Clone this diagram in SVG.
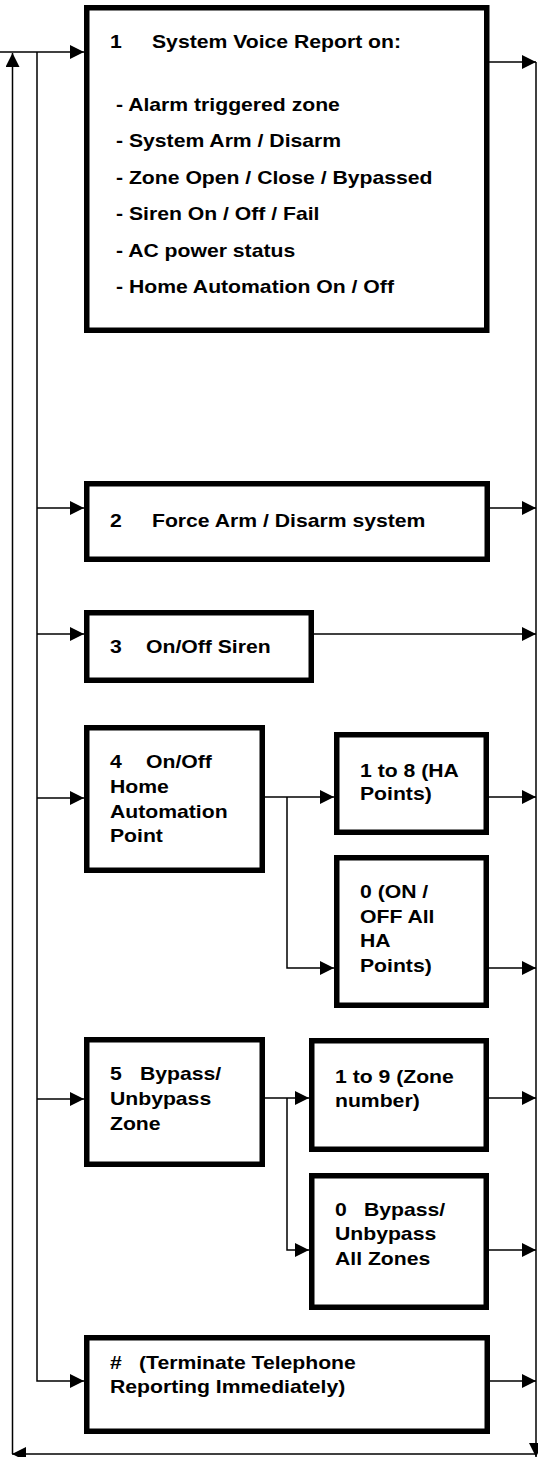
<svg xmlns="http://www.w3.org/2000/svg" width="538" height="1457" viewBox="0 0 538 1457">
<style>
.box{fill:#fff;stroke:#000;stroke-width:5.5}
.c{fill:none;stroke:#000;stroke-width:1.5}
.a{marker-end:url(#ah)}
text{font-family:"Liberation Sans",Arial,Helvetica,sans-serif;font-weight:bold;font-size:19px;fill:#000}
.s{transform:scale(1.115,1)}
</style>
<defs>
<marker id="ah" markerUnits="userSpaceOnUse" markerWidth="14" markerHeight="14" refX="14" refY="7" orient="auto">
<path d="M0,0 L14,7 L0,14 z" fill="#000"/>
</marker>
</defs>
<rect width="538" height="1457" fill="#fff"/>
<g id="connectors">
<path class="c a" d="M0,52 H84"/>
<path class="c a" d="M12.5,1454 V53"/>
<path class="c a" d="M37,52 V1381 H84"/>
<path class="c a" d="M37,508 H84"/>
<path class="c a" d="M37,634 H84"/>
<path class="c a" d="M37,798 H84"/>
<path class="c a" d="M37,1099 H84"/>
<path class="c a" d="M489,62 H536"/>
<path class="c a" d="M489,508 H536"/>
<path class="c a" d="M313,634 H536"/>
<path class="c a" d="M489,797 H536"/>
<path class="c a" d="M489,968 H536"/>
<path class="c a" d="M489,1098 H536"/>
<path class="c a" d="M489,1250 H536"/>
<path class="c a" d="M489,1381 H536"/>
<path class="c a" d="M536,62 V1457"/>
<path class="c a" d="M536,1454 H12"/>
<path class="c a" d="M264,797 H334"/>
<path class="c a" d="M287,797 V968 H334"/>
<path class="c a" d="M264,1098 H309"/>
<path class="c a" d="M287,1098 V1250 H309"/>
</g>
<g id="n1">
<rect class="box" x="86.75" y="7.75" width="400" height="322.5"/>
<text class="s" y="48"><tspan x="98.65">1</tspan><tspan x="136.32">System Voice Report on:</tspan></text>
<text class="s" x="104.04" y="111">- Alarm triggered zone</text>
<text class="s" x="104.04" y="147.5">- System Arm / Disarm</text>
<text class="s" x="104.04" y="184">- Zone Open / Close / Bypassed</text>
<text class="s" x="104.04" y="220.5">- Siren On / Off / Fail</text>
<text class="s" x="104.04" y="257">- AC power status</text>
<text class="s" x="104.04" y="293.5">- Home Automation On / Off</text>
</g>
<g id="n2">
<rect class="box" x="86.75" y="483.75" width="400.5" height="75.5"/>
<text class="s" y="527"><tspan x="98.65">2</tspan><tspan x="136.32">Force Arm / Disarm system</tspan></text>
</g>
<g id="n3">
<rect class="box" x="86.75" y="612.75" width="224.5" height="67.5"/>
<text class="s" y="653"><tspan x="98.65">3</tspan><tspan x="130.94">On/Off Siren</tspan></text>
</g>
<g id="n4">
<rect class="box" x="86.75" y="727.75" width="175.5" height="142.5"/>
<text class="s" y="768"><tspan x="98.65">4</tspan><tspan x="130.94">On/Off</tspan></text>
<text class="s" x="98.65" y="793">Home</text>
<text class="s" x="98.65" y="818">Automation</text>
<text class="s" x="98.65" y="842">Point</text>
</g>
<g id="n4a">
<rect class="box" x="336.75" y="734.75" width="149.5" height="97.5"/>
<text class="s" x="322.87" y="777">1 to 8 (HA</text>
<text class="s" x="322.87" y="800">Points)</text>
</g>
<g id="n4b">
<rect class="box" x="336.75" y="857.75" width="149.5" height="147.5"/>
<text class="s" x="322.87" y="898">0 (ON /</text>
<text class="s" x="322.87" y="923">OFF All</text>
<text class="s" x="322.87" y="947">HA</text>
<text class="s" x="322.87" y="972">Points)</text>
</g>
<g id="n5">
<rect class="box" x="86.75" y="1039.75" width="175.5" height="124.5"/>
<text class="s" y="1080"><tspan x="98.65">5</tspan><tspan x="125.56">Bypass/</tspan></text>
<text class="s" x="98.65" y="1105">Unbypass</text>
<text class="s" x="98.65" y="1130">Zone</text>
</g>
<g id="n5a">
<rect class="box" x="311.75" y="1040.75" width="174.5" height="108.5"/>
<text class="s" x="300.45" y="1083">1 to 9 (Zone</text>
<text class="s" x="300.45" y="1107">number)</text>
</g>
<g id="n5b">
<rect class="box" x="311.75" y="1175.75" width="174.5" height="131.5"/>
<text class="s" y="1216"><tspan x="300.45">0</tspan><tspan x="326.46">Bypass/</tspan></text>
<text class="s" x="300.45" y="1240">Unbypass</text>
<text class="s" x="300.45" y="1265">All Zones</text>
</g>
<g id="n6">
<rect class="box" x="86.75" y="1337.75" width="400.5" height="93.5"/>
<text class="s" y="1369"><tspan x="98.65">#</tspan><tspan x="124.66">(Terminate Telephone</tspan></text>
<text class="s" x="98.65" y="1393">Reporting Immediately)</text>
</g>
</svg>
